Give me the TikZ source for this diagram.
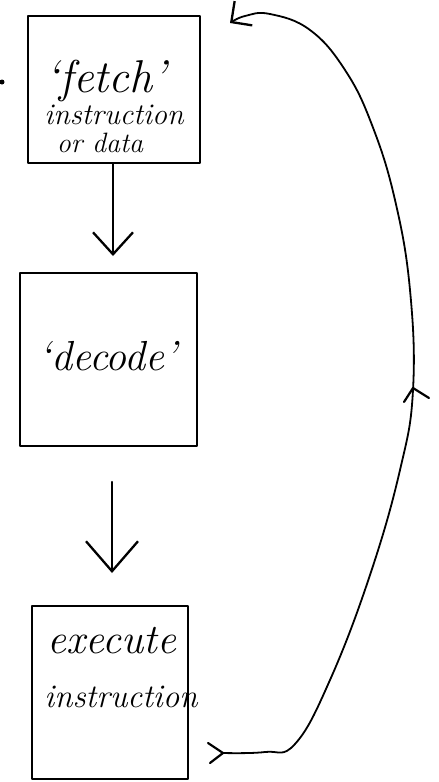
\documentclass[tikz,border=0pt]{standalone}
\usetikzlibrary{arrows.meta}
\begin{document}
\begin{tikzpicture}[x=1pt,y=-1pt,
  box/.style={draw,line width=2.3pt,inner sep=0pt,line join=round},
  hw/.style={font=\itshape,anchor=base,inner sep=0pt},
  varr/.style={line width=2.3pt,line cap=round},
  cyclearc/.style={line width=1.8pt,line cap=round,line join=round},
  tickmark/.style={line width=2.2pt,line cap=round,line join=round}]
\useasboundingbox (0,0) rectangle (439,782);
% boxes
\node[box,minimum width=172pt,minimum height=147pt] (box1) at (114,89.5) {};
\node[box,minimum width=177pt,minimum height=173pt] (box2) at (108.5,359.5) {};
\node[box,minimum width=156pt,minimum height=173pt] (box3) at (110,692.5) {};
% texts
\node[hw,font=\itshape\fontsize{46}{46}\selectfont] (t1) at (106,92) {`fetch'};
\node[hw,font=\itshape\fontsize{30}{30}\selectfont] (t2) at (114,124) {instruction};
\node[hw,font=\itshape\fontsize{28}{28}\selectfont] (t3) at (100,152) {or data};
\node[hw,font=\itshape\fontsize{42}{42}\selectfont] (t4) at (108,370) {`decode'};
\node[hw,font=\itshape\fontsize{42}{42}\selectfont] (t5) at (112,653) {execute};
\node[hw,font=\itshape\fontsize{33}{33}\selectfont] (t6) at (121,707) {instruction};
% stray dot
\fill (2,82) circle (2.5);
% straight arrows
\coordinate (a1tip) at (113,256);
\coordinate (a2top) at (112,482);
\coordinate (a2tip) at (112,573);
\draw[varr,-{Straight Barb[length=22pt,width=40pt,line width=2.3pt]}] (box1.south -| a1tip) -- (a1tip);
\draw[varr,-{Straight Barb[length=30pt,width=52pt,line width=2.3pt]}] (a2top) -- (a2tip);
% return loop
\coordinate (lstart) at (223,753);
\coordinate (lend) at (230,23);
\draw[cyclearc,-{Straight Barb[length=15pt,width=30pt,line width=2.3pt]}]
  plot[smooth,tension=0.7] coordinates {(lstart) (265,752) (295,744) (330,680) (370,575) (400,470) (413,390) (410,290) (395,200) (372,125) (345,70) (310,30) (270,14) (245,16) (lend)};
% direction marks on the loop
\coordinate (mtip) at (413,388);
\draw[tickmark] (404,402) -- (mtip) -- (429,398);
\draw[tickmark] (208,743) -- (lstart) -- (210,763);
\end{tikzpicture}
\end{document}
